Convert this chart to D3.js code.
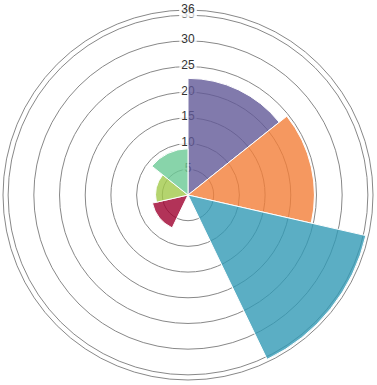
<!DOCTYPE html>
<html>
<head>
<meta charset="utf-8">
<script src="https://cdn.jsdelivr.net/npm/d3@7"></script>
<style>
  html, body { margin: 0; padding: 0; background: #fff; }
  svg { display: block; }
</style>
</head>
<body>
<svg id="chart" width="377" height="385"></svg>
<script>
const categories = ["A", "B", "C", "D", "E", "F", "G"];
const values = [22.7, 24.6, 35.5, 0, 7.1, 6.3, 9.0];
const colors = ["#625997", "#F27E38", "#329AB5", "#FEE08B", "#9F002E", "#A1C94A", "#6AC995"];
const tickValues = [5, 10, 15, 20, 25, 30, 35, 36];
const scaleMax = 36;

const svg = d3.select("#chart");
const cx = 188, cy = 195, R = 185;
const g = svg.append("g").attr("transform", `translate(${cx},${cy})`);

const r = d3.scaleLinear().domain([0, scaleMax]).range([0, R]);
const angle = d3.scaleBand().domain(categories).range([0, 2 * Math.PI]).paddingInner(0).paddingOuter(0);

// grid rings
g.append("g").selectAll("circle").data(tickValues).join("circle")
  .attr("r", d => r(d))
  .attr("fill", "none")
  .attr("stroke", "#888")
  .attr("stroke-width", 1);

// tick labels with semi-transparent backdrops
const labels = g.append("g");
tickValues.forEach(v => {
  const t = String(v);
  const w = t.length * 6.7;
  const y = -r(v) - 1.5;
  labels.append("rect")
    .attr("x", -w / 2 - 2).attr("y", y - 7 - 2)
    .attr("width", w + 4).attr("height", 14 + 4)
    .attr("fill", "rgba(255,255,255,0.75)");
  labels.append("text")
    .attr("x", 0).attr("y", y)
    .attr("text-anchor", "middle")
    .attr("dominant-baseline", "central")
    .attr("font-family", "'Liberation Sans', Arial, sans-serif")
    .attr("font-size", 12)
    .attr("fill", "#333")
    .text(t);
});

// slices
const arc = d3.arc()
  .innerRadius(0)
  .outerRadius(d => r(d.value))
  .startAngle(d => angle(d.cat))
  .endAngle(d => angle(d.cat) + angle.bandwidth());

const data = categories.map((c, i) => ({cat: c, value: values[i], color: colors[i]}));
g.append("g").selectAll("path").data(data.filter(d => d.value > 0)).join("path")
  .attr("d", arc)
  .attr("fill", d => d.color)
  .attr("fill-opacity", 0.8)
  .attr("stroke", "#fff")
  .attr("stroke-width", 1);
</script>
</body>
</html>
